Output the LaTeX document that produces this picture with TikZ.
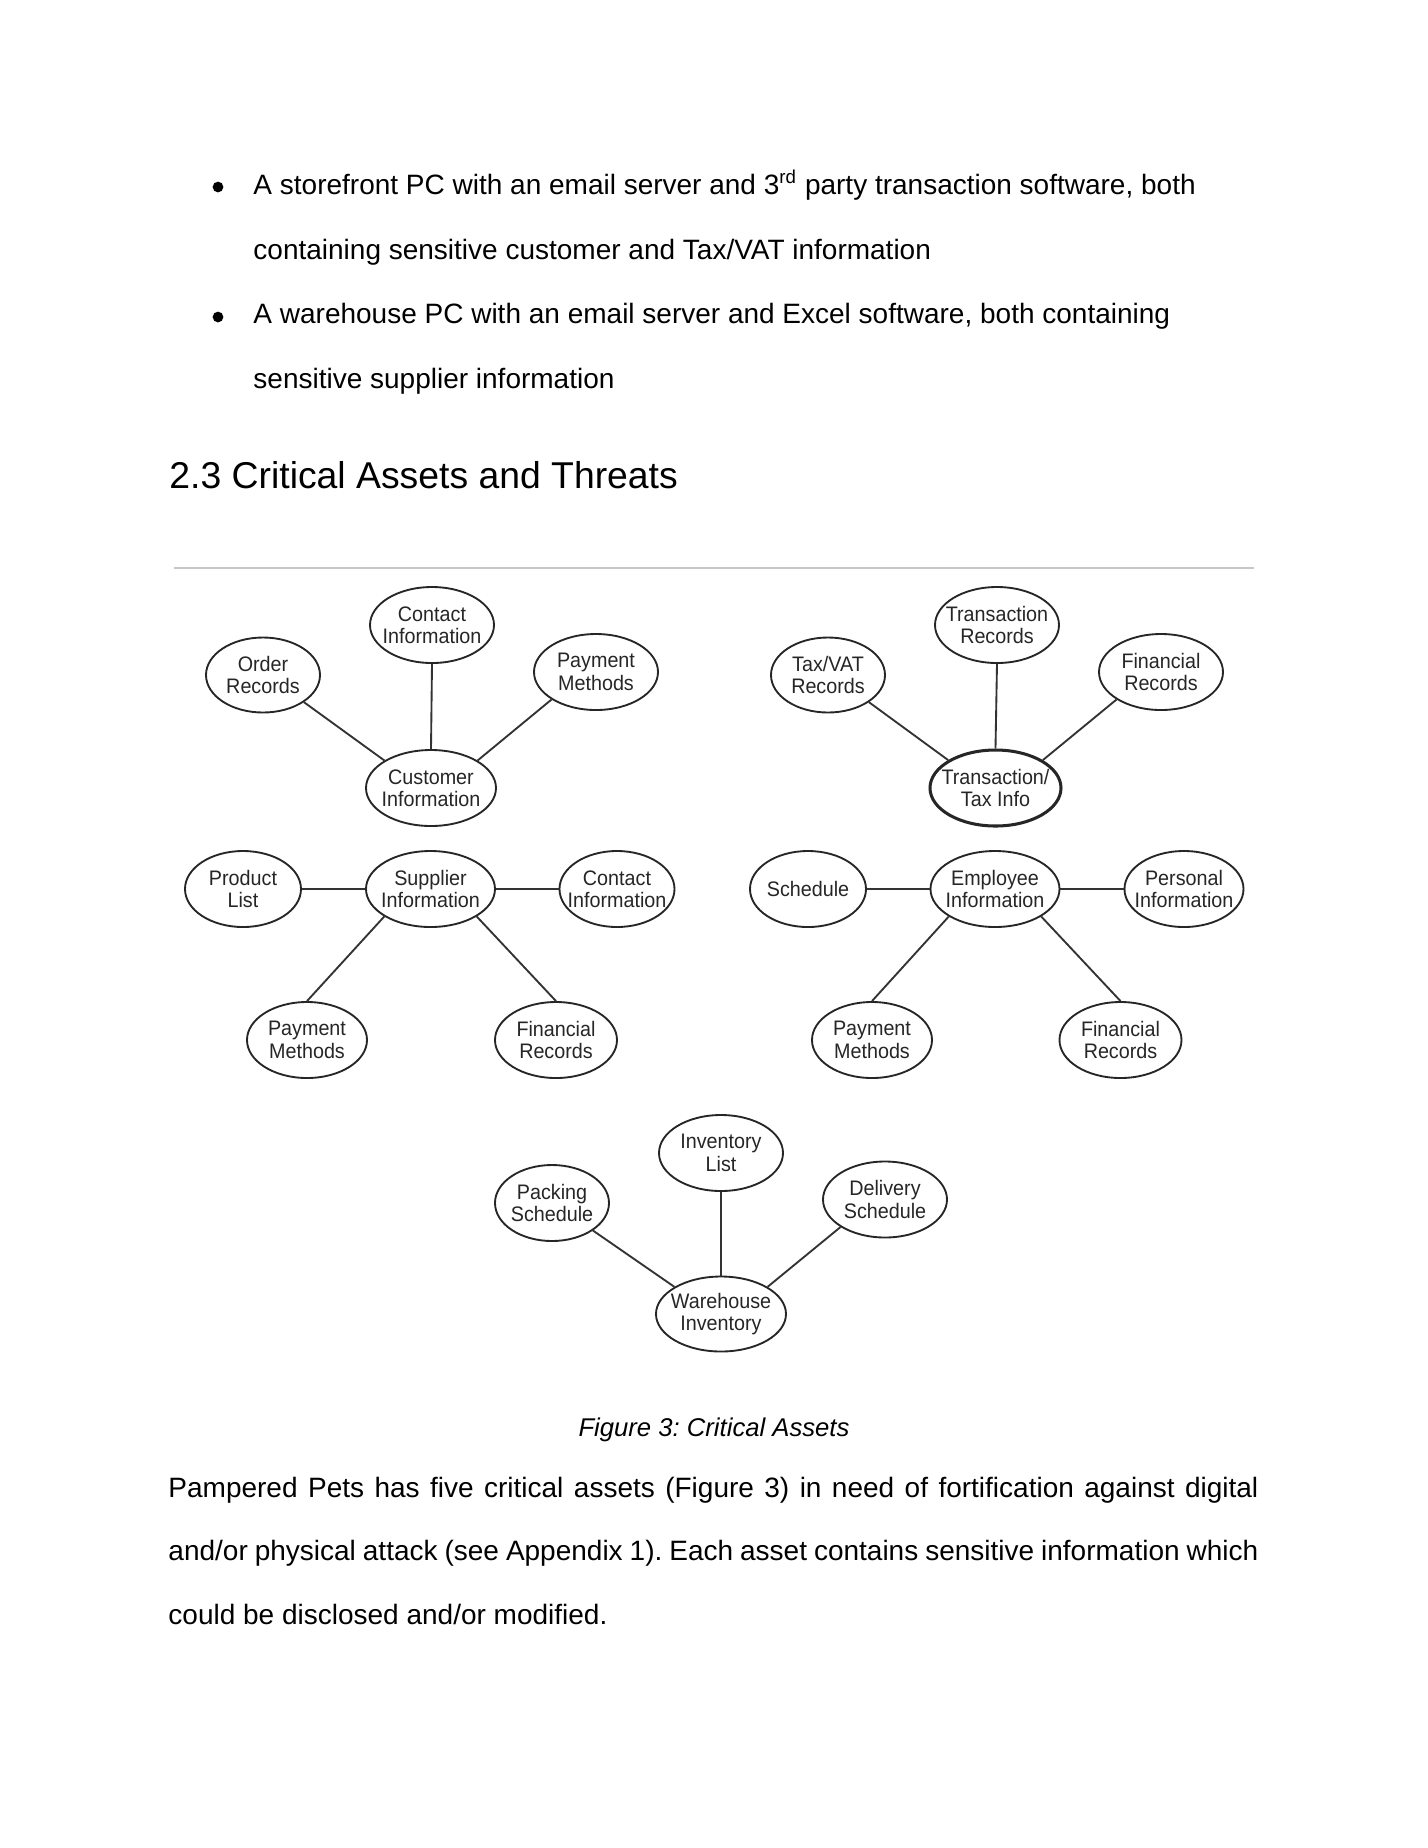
\documentclass[tikz,border=0pt]{standalone}
\usepackage{fontspec}
\setmainfont{Liberation Sans}
\newfontfamily\nodefont[FakeStretch=0.94]{Liberation Sans}
\usetikzlibrary{shapes.geometric}
\frenchspacing
\newcommand{\asset}[5]{\node[asset, esz={#4}{#5}, label={[lbl]center:#3}] (#1) at #2 {};}
\begin{document}
\begin{tikzpicture}[x=0.428571pt,y=-0.428571pt,
  asset/.style={ellipse, draw=black!85, line width=0.8pt, inner sep=0pt},
  esz/.style 2 args={minimum width=#1*0.857142pt, minimum height=#2*0.857142pt},
  lbl/.style={inner sep=0pt, align=center, font=\nodefont\fontsize{9}{9.6}\selectfont, text=black!85},
  link/.style={draw=black!80, line width=0.8pt},
  body/.style={anchor=base west, inner sep=0pt, font=\fontsize{12}{14}\selectfont},
  bul/.style={circle, fill=black, inner sep=0pt, minimum size=4.6pt}]
\fill[white] (0,0) rectangle (1428,1848);
\useasboundingbox (0,0) rectangle (1428,1848);

% ---- text above ----
\node[bul] (b1) at (218,187) {};
\node[body] (l1) at (253,194) {A storefront PC with an email server and 3\textsuperscript{rd} party transaction software, both};
\node[body] (l2) at (253,259) {containing sensitive customer and Tax/VAT information};
\node[bul] (b2) at (218,317) {};
\node[body] (l3) at (253,323) {A warehouse PC with an email server and Excel software, both containing};
\node[body] (l4) at (253,388) {sensitive supplier information};
\node[anchor=base west, inner sep=0pt, font=\fontsize{16}{19}\selectfont] (h) at (169,488) {2.3 Critical Assets and Threats};

% ---- rule ----
\coordinate (r1) at (174,568);
\coordinate (r2) at (1254,568);
\draw[black!22, line width=1.1pt] (r1) -- (r2);

% ---- group 1: customer ----
\asset{c1}{(431,788)}{Customer\\Information}{65}{38}
\asset{c1a}{(263,675)}{Order\\Records}{57}{37.5}
\asset{c1b}{(432,625)}{Contact\\Information}{62}{38}
\asset{c1c}{(596,672)}{Payment\\Methods}{62}{38}
\draw[link] (c1a.south east) -- (c1.north west);
\draw[link] (c1b.south) -- (c1.north);
\draw[link] (c1c.south west) -- (c1.north east);

% ---- group 2: supplier ----
\asset{s}{(430.5,889)}{Supplier\\Information}{64.5}{38}
\asset{s1}{(243,889)}{Product\\List}{58}{38}
\asset{s2}{(617,889)}{Contact\\Information}{57.5}{38}
\asset{s3}{(307,1040)}{Payment\\Methods}{60}{38}
\asset{s4}{(556,1040)}{Financial\\Records}{61}{38}
\draw[link] (s1.east) -- (s.west);
\draw[link] (s.east) -- (s2.west);
\draw[link] (s.south west) -- (s3.north);
\draw[link] (s.south east) -- (s4.north);

% ---- group 3: transaction ----
\node[asset, line width=1.3pt, esz={65.5}{38}, label={[lbl]center:Transaction/\\Tax Info}] (t) at (995.5,788) {};
\asset{t1}{(828,675)}{Tax/VAT\\Records}{57}{37.5}
\asset{t2}{(997,625)}{Transaction\\Records}{62}{38}
\asset{t3}{(1161,672)}{Financial\\Records}{62}{38}
\draw[link] (t1.south east) -- (t.north west);
\draw[link] (t2.south) -- (t.north);
\draw[link] (t3.south west) -- (t.north east);

% ---- group 4: employee ----
\asset{e}{(995,889)}{Employee\\Information}{64.5}{38}
\asset{e1}{(808,889)}{Schedule}{58}{38}
\asset{e2}{(1184,889)}{Personal\\Information}{59.5}{38}
\asset{e3}{(872,1040)}{Payment\\Methods}{60}{38}
\asset{e4}{(1120.5,1040)}{Financial\\Records}{61}{38}
\draw[link] (e1.east) -- (e.west);
\draw[link] (e.east) -- (e2.west);
\draw[link] (e.south west) -- (e3.north);
\draw[link] (e.south east) -- (e4.north);

% ---- group 5: warehouse ----
\asset{w}{(721,1314)}{Warehouse\\Inventory}{65}{37.5}
\asset{w1}{(552,1203)}{Packing\\Schedule}{57}{38}
\asset{w2}{(721,1153)}{Inventory\\List}{62}{38}
\asset{w3}{(885,1199.5)}{Delivery\\Schedule}{62}{38}
\draw[link] (w1.south east) -- (w.north west);
\draw[link] (w2.south) -- (w.north);
\draw[link] (w3.south west) -- (w.north east);

% ---- caption and paragraph ----
\node[anchor=base, inner sep=0pt, font=\fontsize{11}{13}\selectfont\itshape] (cap) at (714,1436) {Figure 3: Critical Assets};
\node[body] (p1) at (168,1497) {\makebox[467.1pt][s]{Pampered Pets has five critical assets (Figure 3) in need of fortification against digital}};
\node[body] (p2) at (168,1560) {\makebox[467.1pt][s]{and/or physical attack (see Appendix 1). Each asset contains sensitive information which}};
\node[body] (p3) at (168,1624) {could be disclosed and/or modified.};
\end{tikzpicture}
\end{document}
